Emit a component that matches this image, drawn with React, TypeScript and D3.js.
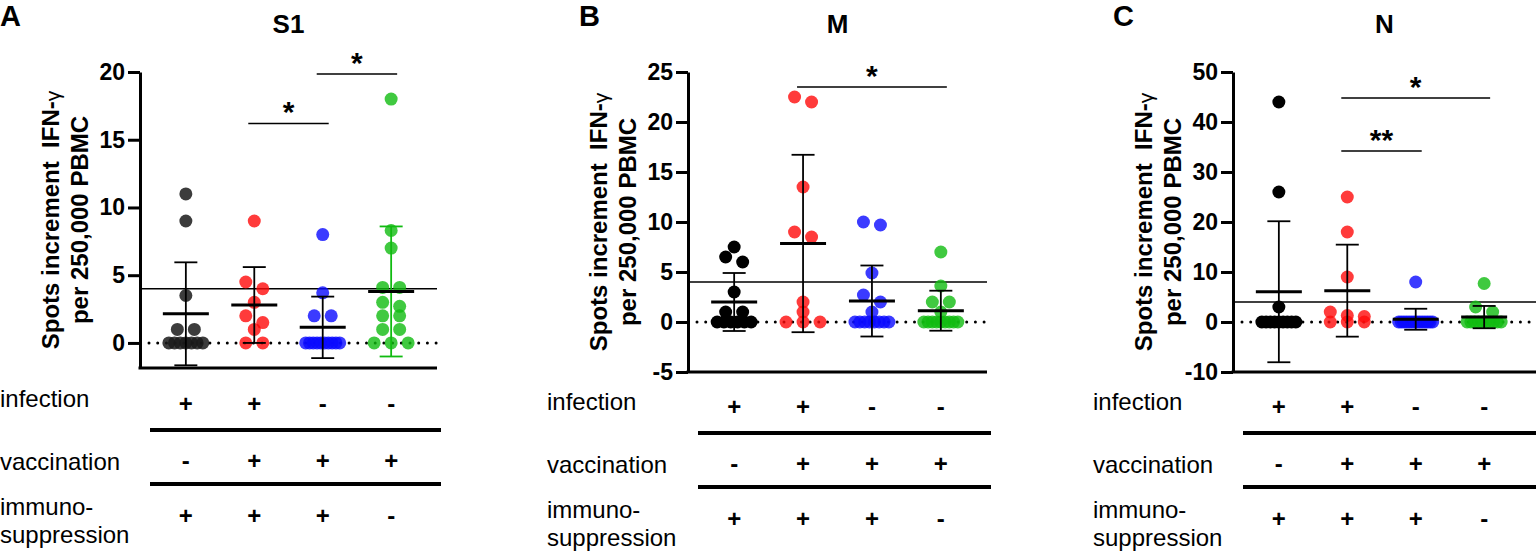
import { useEffect, useRef } from "react";
import * as d3 from "d3";

// four patient groups, same order in every panel
const groups = ["inf+ vac- imm+", "inf+ vac+ imm+", "inf- vac+ imm+", "inf- vac+ imm-"];
const dotColors = ["#000000", "#ff0a0a", "#0a0aff", "#10bb10"];

// table under the plots
const infection = ["+", "+", "-", "-"];
const vaccination = ["-", "+", "+", "+"];
const immuno = ["+", "+", "+", "-"];

const threshold = 4;

// S1
const s1Values = [
  [11, 9, 3.5, 1, 1, 0, 0, 0, 0, 0, 0, 0],
  [9, 4.5, 4, 3, 2, 1.5, 1, 0, 0],
  [8, 3.7, 2, 2, 0, 0, 0, 0, 0, 0, 0, 0, 0, 0],
  [18, 8.3, 7, 4.1, 4.1, 3, 2.7, 2, 2, 1, 1, 0, 0, 0],
];
const s1Means = [2.15, 2.8, 1.15, 3.8];
const s1Sd = [3.8, 2.8, 2.27, 4.8];
const s1Ticks = [0, 5, 10, 15, 20];
const s1Sig = [
  { from: 1, to: 2, at: 16.2, label: "*" },
  { from: 2, to: 3, at: 19.85, label: "*" },
];

// M
const mValues = [
  [7.5, 6.5, 6, 3, 1, 1, 0, 0, 0, 0, 0, 0],
  [22.5, 22, 13.5, 9, 8.5, 2, 1, 0, 0, 0],
  [10, 9.7, 4.9, 2.7, 2, 1, 0, 0, 0, 0, 0, 0, 0, 0],
  [7, 3.6, 2, 2, 1, 0, 0, 0, 0, 0, 0, 0, 0, 0],
];
const mMeans = [2.0, 7.85, 2.1, 1.13];
const mSd = [2.9, 8.87, 3.55, 2.0];
const mTicks = [-5, 0, 5, 10, 15, 20, 25];
const mSig = [{ from: 1, to: 3, at: 23.5, label: "*" }];

// N
const nValues = [
  [44, 26, 3, 0, 0, 0, 0, 0, 0, 0, 0, 0],
  [25, 18, 9, 2, 1.3, 1.1, 0, 0, 0],
  [8, 0, 0, 0, 0, 0, 0, 0, 0, 0, 0, 0, 0, 0, 0],
  [7.7, 3, 2, 0, 0, 0, 0, 0, 0, 0, 0, 0, 0],
];
const nMeans = [6.05, 6.27, 0.55, 0.98];
const nSd = [14.1, 9.2, 2.1, 2.23];
const nTicks = [-10, 0, 10, 20, 30, 40, 50];
const nSig = [
  { from: 1, to: 3, at: 44.8, label: "*" },
  { from: 1, to: 2, at: 34.2, label: "**" },
];

const FONT = "'Liberation Sans', Arial, Helvetica, sans-serif";

const panels = [
  {
    letter: "A", title: "S1", values: s1Values, means: s1Means, sd: s1Sd, ticks: s1Ticks,
    domain: [-1.85, 20], sig: s1Sig, letterX: 0, labelX: 0,
    axisX: 140, xEnd: 437, lineEnd: 437, bottom: 368, tableDy: 0,
    blackOpacity: 0.85, blackFill: "#1a1a1a", greenErr: true,
  },
  {
    letter: "B", title: "M", values: mValues, means: mMeans, sd: mSd, ticks: mTicks,
    domain: [-5, 25], sig: mSig, letterX: 579, labelX: 547,
    axisX: 688, xEnd: 987, lineEnd: 987, bottom: 372, tableDy: 3,
    blackOpacity: 1, blackFill: "#000", greenErr: false,
  },
  {
    letter: "C", title: "N", values: nValues, means: nMeans, sd: nSd, ticks: nTicks,
    domain: [-10, 50], sig: nSig, letterX: 1113, labelX: 1093,
    axisX: 1233, xEnd: 1530, lineEnd: 1536, bottom: 372, tableDy: 3,
    blackOpacity: 1, blackFill: "#000", greenErr: false,
  },
];

// spread points that sit at about the same height side by side
function spread(values: number[], y: (v: number) => number) {
  const sorted = values.map((v) => ({ v, py: y(v) })).sort((a, b) => a.py - b.py);
  const rows: { v: number; py: number }[][] = [];
  sorted.forEach((d) => {
    const row = rows[rows.length - 1];
    if (row && d.py - row[0].py < 10) row.push(d);
    else rows.push([d]);
  });
  return rows.flatMap((row) => {
    const k = row.length;
    const step = k <= 3 ? 17 : 34 / (k - 1);
    return row.map((d, j) => ({ ...d, dx: (j - (k - 1) / 2) * step }));
  });
}

function drawPanel(svg: any, p: any) {
  const top = 72;
  const y = d3.scaleLinear(p.domain, [p.bottom, top]);
  const x = d3.scalePoint(groups, [p.axisX, p.xEnd]).padding(0.67);
  const g = svg.append("g").attr("font-family", FONT);

  g.append("text").attr("x", p.letterX).attr("y", 26)
    .attr("font-size", 29).attr("font-weight", "bold").text(p.letter);
  g.append("text").attr("x", (p.axisX + p.lineEnd) / 2).attr("y", 33)
    .attr("text-anchor", "middle").attr("font-size", 26).attr("font-weight", "bold").text(p.title);

  // y label
  const yl = g.append("g")
    .attr("transform", `translate(${p.axisX - 81},${(top + p.bottom) / 2}) rotate(-90)`)
    .attr("font-size", 24).attr("font-weight", "bold").attr("text-anchor", "middle");
  const l1 = yl.append("text").attr("x", 0).attr("y", 0);
  l1.append("tspan").text("Spots increment\u00a0 IFN-");
  l1.append("tspan").attr("font-weight", "normal").attr("font-size", 21).attr("dy", 1).text("γ");
  yl.append("text").attr("x", 0).attr("y", 29).text("per 250,000 PBMC");

  // zero line, dotted
  g.append("line").attr("x1", p.axisX + 9).attr("x2", p.lineEnd)
    .attr("y1", y(0)).attr("y2", y(0))
    .attr("stroke", "#000").attr("stroke-width", 3)
    .attr("stroke-linecap", "round").attr("stroke-dasharray", "0 8.7");

  // threshold
  g.append("line").attr("x1", p.axisX).attr("x2", p.lineEnd)
    .attr("y1", y(threshold)).attr("y2", y(threshold))
    .attr("stroke", "#000").attr("stroke-width", 1.5);

  // points
  groups.forEach((grp, i) => {
    const pts = spread(p.values[i], y);
    const fill = i === 0 ? p.blackFill : dotColors[i];
    const op = i === 0 ? p.blackOpacity : 0.8;
    g.append("g").selectAll("circle").data(pts).join("circle")
      .attr("cx", (d: any) => (x(grp) as number) + d.dx)
      .attr("cy", (d: any) => d.py)
      .attr("r", 6.5)
      .attr("fill", fill)
      .attr("fill-opacity", op);
  });

  // mean and SD
  groups.forEach((grp, i) => {
    const cx = x(grp) as number;
    const m = p.means[i];
    const s = p.sd[i];
    const ec = i === 3 && p.greenErr ? dotColors[3] : "#000";
    const eb = g.append("g").attr("stroke", ec).attr("stroke-width", 1.8);
    eb.append("line").attr("x1", cx).attr("x2", cx).attr("y1", y(m - s)).attr("y2", y(m + s));
    [m - s, m + s].forEach((v) => {
      eb.append("line").attr("x1", cx - 11.5).attr("x2", cx + 11.5).attr("y1", y(v)).attr("y2", y(v));
    });
    g.append("line").attr("x1", cx - 23).attr("x2", cx + 23).attr("y1", y(m)).attr("y2", y(m))
      .attr("stroke", "#000").attr("stroke-width", 3);
  });

  // axes
  const axis = d3.axisLeft(y).tickValues(p.ticks).tickSize(12).tickSizeOuter(0)
    .tickPadding(3).tickFormat((d: any) => String(d));
  const ag = g.append("g").attr("transform", `translate(${p.axisX},0)`).call(axis);
  ag.attr("font-family", FONT).attr("font-size", 23).attr("font-weight", "bold");
  ag.selectAll("path,line").attr("stroke-width", 3);
  g.append("line").attr("x1", p.axisX - 1.5).attr("x2", p.lineEnd)
    .attr("y1", p.bottom).attr("y2", p.bottom)
    .attr("stroke", "#000").attr("stroke-width", 3);

  // significance
  p.sig.forEach((s: any) => {
    const x1 = (x(groups[s.from]) as number) - 6;
    const x2 = (x(groups[s.to]) as number) + 6;
    g.append("line").attr("x1", x1).attr("x2", x2).attr("y1", y(s.at)).attr("y2", y(s.at))
      .attr("stroke", "#000").attr("stroke-width", 1.5);
    g.append("text").attr("x", (x1 + x2) / 2).attr("y", y(s.at) - 1)
      .attr("text-anchor", "middle").attr("font-size", 30).attr("font-weight", "bold").text(s.label);
  });

  // table
  const dy = p.tableDy;
  [430, 484].forEach((ly) => {
    g.append("line").attr("x1", p.axisX + 10).attr("x2", Math.min(p.lineEnd + 4, 1536))
      .attr("y1", ly + dy).attr("y2", ly + dy).attr("stroke", "#000").attr("stroke-width", 4);
  });
  const labels: [string, number][] = [
    ["infection", 407], ["vaccination", 470], ["immuno-", 515], ["suppression", 543],
  ];
  labels.forEach(([t, ly]) => {
    g.append("text").attr("x", p.labelX).attr("y", ly + dy).attr("font-size", 24).text(t);
  });
  const signRows: [string[], number][] = [[infection, 412], [vaccination, 469], [immuno, 524]];
  signRows.forEach(([signs, ly]) => {
    groups.forEach((grp, i) => {
      g.append("text").attr("x", x(grp) as number).attr("y", ly + dy)
        .attr("text-anchor", "middle").attr("font-size", 24).attr("font-weight", "bold")
        .text(signs[i]);
    });
  });
}

const App = () => {
  const ref = useRef<SVGSVGElement | null>(null);

  useEffect(() => {
    if (!ref.current) return;
    const svg = d3.select(ref.current);
    svg.selectAll("*").remove();
    panels.forEach((p) => drawPanel(svg, p));
  }, []);

  return (
    <svg
      ref={ref}
      width={1536}
      height={551}
      style={{ position: "absolute", left: 0, top: 0, background: "#fff" }}
    />
  );
};

export default App;
